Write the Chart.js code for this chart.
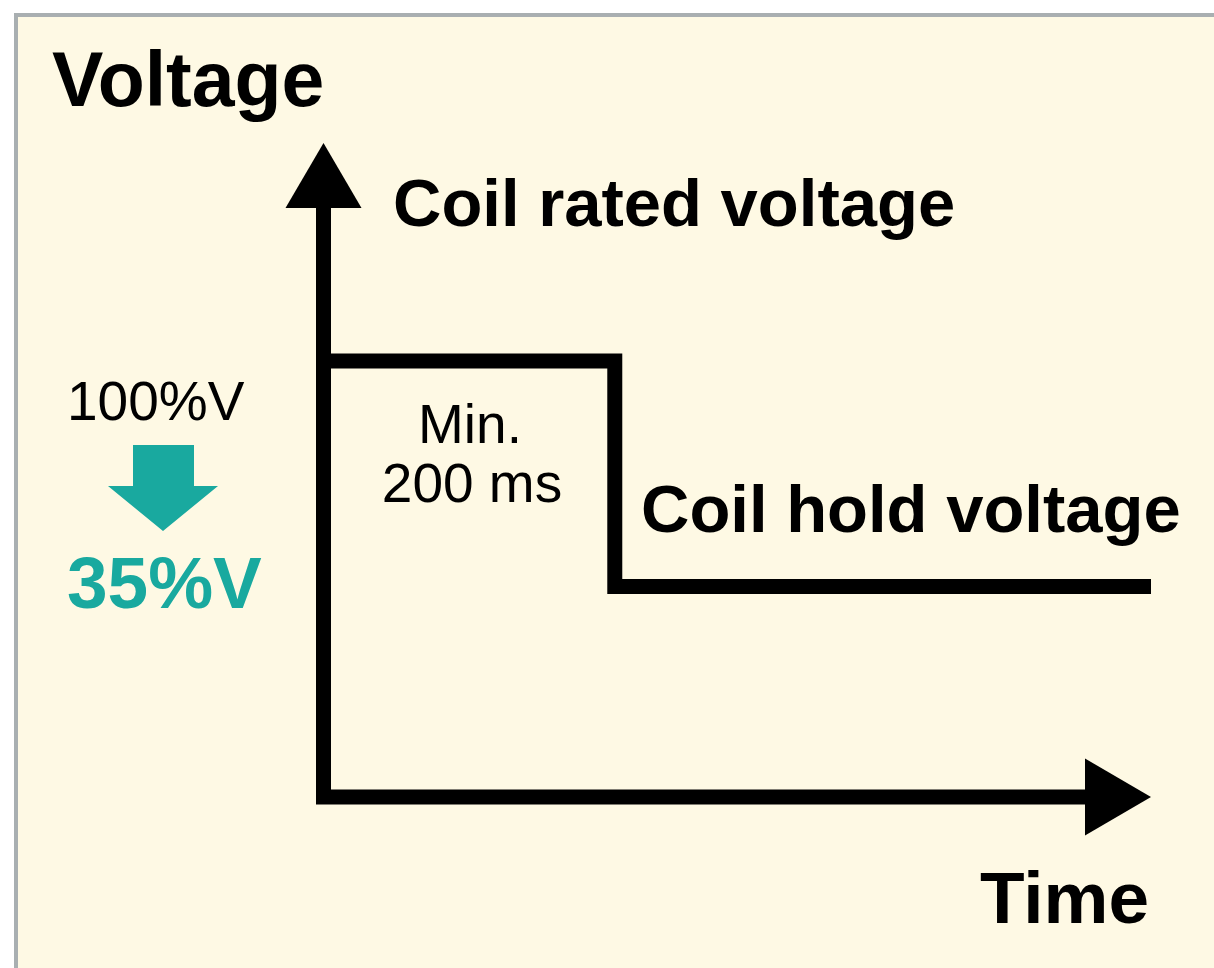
<!DOCTYPE html>
<html>
<head>
<meta charset="utf-8">
<style>
  html, body { margin: 0; padding: 0; background: #ffffff; }
  #wrap { width: 1214px; height: 968px; }
</style>
<script src="https://cdn.jsdelivr.net/npm/chart.js@4/dist/chart.umd.min.js"></script>
</head>
<body>
<div id="wrap"><canvas id="c" width="1214" height="968"></canvas></div>
<script>
// ---- data ----
const timeSteps = [0, 35.2, 35.2, 100];      // time axis (arbitrary units)
const voltageLevels = [100, 100, 48.3, 48.3]; // diagram level (rated = 100)
const axisTitles = { y: 'Voltage', x: 'Time' };
const levelLabels = ['Coil rated voltage', 'Coil hold voltage'];
const durationLabel = ['Min.', '200 ms'];
const reductionLabels = ['100%V', '35%V'];

const FONT = '"Liberation Sans", Arial, Helvetica, sans-serif';
const TEAL = '#19A99F';
const CREAM = '#FEF9E4';

const backgroundPlugin = {
  id: 'bg',
  beforeDraw(chart) {
    const ctx = chart.ctx;
    ctx.save();
    ctx.fillStyle = '#ffffff';
    ctx.fillRect(0, 0, chart.width, chart.height);
    ctx.fillStyle = '#A9AFB1';
    ctx.fillRect(14, 13, chart.width - 14, chart.height - 13);
    ctx.fillStyle = CREAM;
    ctx.fillRect(18, 17, chart.width - 18, chart.height - 17);
    ctx.restore();
  }
};

const axesPlugin = {
  id: 'axesArrows',
  beforeDatasetsDraw(chart) {
    const ctx = chart.ctx;
    const xs = chart.scales.x, ys = chart.scales.y;
    const x0 = xs.getPixelForValue(0);
    const y0 = ys.getPixelForValue(0);
    const yTip = ys.getPixelForValue(ys.max);
    const xTip = xs.getPixelForValue(xs.max);
    const yHeadLen = 65, yHeadHalf = 38;
    const xHeadLen = 66, xHeadHalf = 38.5;
    ctx.save();
    ctx.strokeStyle = '#000';
    ctx.fillStyle = '#000';
    ctx.lineWidth = 15;
    ctx.lineJoin = 'miter';
    ctx.lineCap = 'butt';
    ctx.beginPath();
    ctx.moveTo(x0, yTip + yHeadLen - 1);
    ctx.lineTo(x0, y0);
    ctx.lineTo(xTip - xHeadLen + 1, y0);
    ctx.stroke();
    // y arrow head
    ctx.beginPath();
    ctx.moveTo(x0, yTip);
    ctx.lineTo(x0 + yHeadHalf, yTip + yHeadLen);
    ctx.lineTo(x0 - yHeadHalf, yTip + yHeadLen);
    ctx.closePath();
    ctx.fill();
    // x arrow head
    ctx.beginPath();
    ctx.moveTo(xTip, y0);
    ctx.lineTo(xTip - xHeadLen, y0 - xHeadHalf);
    ctx.lineTo(xTip - xHeadLen, y0 + xHeadHalf);
    ctx.closePath();
    ctx.fill();
    ctx.restore();
  }
};

const labelsPlugin = {
  id: 'labels',
  afterDraw(chart) {
    const ctx = chart.ctx;
    ctx.save();
    ctx.textBaseline = 'alphabetic';
    ctx.fillStyle = '#000';

    ctx.textAlign = 'left';
    ctx.font = 'bold 77px ' + FONT;
    ctx.fillText(axisTitles.y, 52, 106);
    ctx.font = 'bold 73px ' + FONT;
    ctx.fillText(axisTitles.x, 980, 923);

    ctx.font = 'bold 67px ' + FONT;
    ctx.fillText(levelLabels[0], 393, 226);
    ctx.fillText(levelLabels[1], 641, 532);

    ctx.textAlign = 'center';
    ctx.font = '55px ' + FONT;
    ctx.fillText(durationLabel[0], 470, 443);
    ctx.fillText(durationLabel[1], 472, 502);

    ctx.textAlign = 'left';
    ctx.font = '55px ' + FONT;
    ctx.fillText(reductionLabels[0], 67, 420);
    ctx.fillStyle = TEAL;
    ctx.font = 'bold 73px ' + FONT;
    ctx.fillText(reductionLabels[1], 67, 608);

    // teal down arrow
    ctx.beginPath();
    ctx.moveTo(133, 445);
    ctx.lineTo(194, 445);
    ctx.lineTo(194, 486);
    ctx.lineTo(218, 486);
    ctx.lineTo(163, 531);
    ctx.lineTo(108, 486);
    ctx.lineTo(133, 486);
    ctx.closePath();
    ctx.fill();
    ctx.restore();
  }
};

new Chart(document.getElementById('c'), {
  type: 'scatter',
  data: {
    datasets: [{
      data: timeSteps.map((t, i) => ({ x: t, y: voltageLevels[i] })),
      showLine: true,
      borderColor: '#000',
      borderWidth: 15,
      borderJoinStyle: 'miter',
      borderCapStyle: 'butt',
      pointRadius: 0,
      pointHoverRadius: 0,
      fill: false,
      tension: 0
    }]
  },
  options: {
    responsive: false,
    devicePixelRatio: 1,
    animation: false,
    layout: { padding: { left: 323.5, right: 63, top: 143, bottom: 171 } },
    plugins: { legend: { display: false }, tooltip: { enabled: false } },
    scales: {
      x: { type: 'linear', min: 0, max: 100, display: false },
      y: { type: 'linear', min: 0, max: 150, display: false }
    }
  },
  plugins: [backgroundPlugin, axesPlugin, labelsPlugin]
});
</script>
</body>
</html>
